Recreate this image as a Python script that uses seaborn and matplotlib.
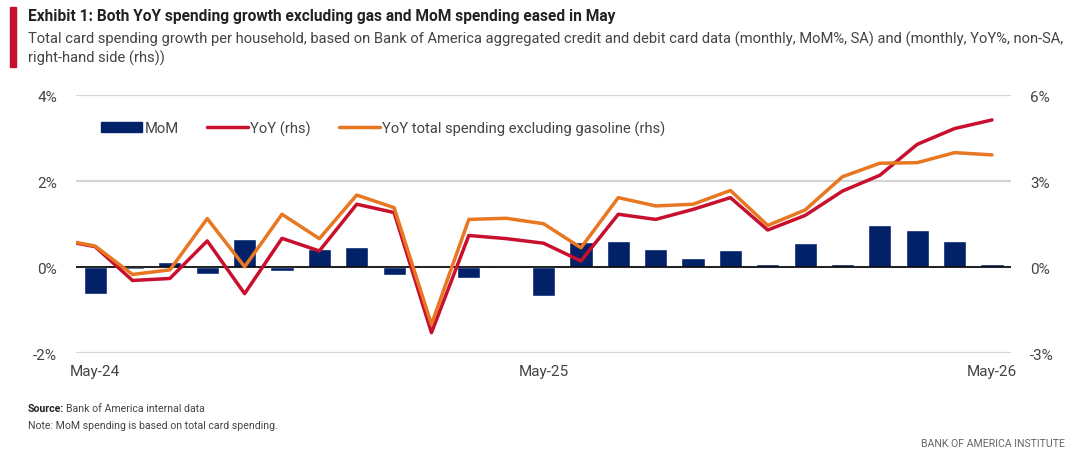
import matplotlib
matplotlib.use("Agg")
import matplotlib.pyplot as plt
import matplotlib.patches as mpatches
from matplotlib.lines import Line2D
import seaborn as sns
import pandas as pd
import numpy as np

# ---- data ----
line_months = ["Apr-24", "May-24", "Jun-24", "Jul-24", "Aug-24", "Sep-24", "Oct-24", "Nov-24",
               "Dec-24", "Jan-25", "Feb-25", "Mar-25", "Apr-25", "May-25", "Jun-25", "Jul-25",
               "Aug-25", "Sep-25", "Oct-25", "Nov-25", "Dec-25", "Jan-26", "Feb-26", "Mar-26",
               "Apr-26", "May-26"]
bar_months = line_months[1:]
mom = [-0.62, -0.04, 0.12, -0.17, 0.64, -0.10, 0.43, 0.47, -0.18, 0.01, -0.26, 0.01, -0.67,
       0.57, 0.60, 0.43, 0.20, 0.39, 0.07, 0.55, 0.07, 0.98, 0.87, 0.60, 0.08]
yoy = [0.95, 0.71, -0.47, -0.40, 0.91, -0.93, 1.00, 0.56, 2.19, 1.90, -2.29, 1.10, 0.99, 0.83,
       0.21, 1.84, 1.66, 2.01, 2.42, 1.29, 1.80, 2.65, 3.20, 4.28, 4.83, 5.13]
yoy_ex_gas = [0.98, 0.73, -0.26, -0.10, 1.69, 0.01, 1.84, 0.99, 2.51, 2.07, -2.00, 1.66, 1.70,
              1.51, 0.67, 2.42, 2.13, 2.19, 2.67, 1.45, 1.99, 3.15, 3.62, 3.64, 3.99, 3.91]
xtick_labels = ["May-24", "May-25", "May-26"]
left_ticks = [-2, 0, 2, 4]
right_ticks = [-3, 0, 3, 6]

NAVY = "#012169"
RED = "#C8102E"
ORANGE = "#E87722"
GRID = "#d4d4d4"
TXT = "#444444"

sns.set_theme(style="white")
plt.rcParams["font.family"] = ["Liberation Sans Narrow", "Roboto", "DejaVu Sans"]

fig = plt.figure(figsize=(10.8, 4.52), dpi=100)
ax = fig.add_axes([0.0708, 0.2168, 0.865, 0.5708])
ax2 = ax.twinx()

bar_df = pd.DataFrame({"pos": np.arange(len(bar_months)), "MoM": mom})
line_df = pd.DataFrame({"pos": np.arange(len(line_months)) - 1, "YoY": yoy, "ExGas": yoy_ex_gas})

# gridlines
for t in left_ticks:
    ax.axhline(t, color=GRID, lw=1.6, zorder=0)

sns.barplot(data=bar_df, x="pos", y="MoM", native_scale=True, width=0.62, color=NAVY,
            saturation=1, ax=ax, zorder=2)
ax.axhline(0, color="black", lw=1.2, zorder=3)

sns.lineplot(data=line_df, x="pos", y="YoY", color=RED, lw=2.5, ax=ax2, zorder=4)
sns.lineplot(data=line_df, x="pos", y="ExGas", color=ORANGE, lw=2.5, ax=ax2, zorder=5)

ax.set_ylim(-2, 4)
ax2.set_ylim(-3, 6)
ax.set_xlim(-0.5, len(bar_months) - 0.5)
ax2.set_xlim(-0.5, len(bar_months) - 0.5)

ax.set_yticks(left_ticks)
ax.set_yticklabels([f"{t}%" for t in left_ticks])
ax2.set_yticks(right_ticks)
ax2.set_yticklabels([f"{t}%" for t in right_ticks])
ax.set_xticks([0, 12, 24])
ax.set_xticklabels(xtick_labels)
for a in (ax, ax2):
    a.set_xlabel("")
    a.set_ylabel("")
    for s in a.spines.values():
        s.set_visible(False)
    a.tick_params(length=0, labelsize=11, labelcolor=TXT)
    a.grid(False)
ax.tick_params(axis="y", pad=14)
ax2.tick_params(axis="y", pad=14)
ax.tick_params(axis="x", pad=8)

handles = [mpatches.Patch(color=NAVY, label="MoM"),
           Line2D([], [], color=RED, lw=2.5, label="YoY (rhs)"),
           Line2D([], [], color=ORANGE, lw=2.5, label="YoY total spending excluding gasoline (rhs)")]
leg = ax.legend(handles=handles, ncol=3, loc="center left", bbox_to_anchor=(0.02, 0.872),
                frameon=False, fontsize=10.6, handlelength=2.8, handleheight=0.6,
                handletextpad=0.15, columnspacing=1.9, borderaxespad=0)
for t in leg.get_texts():
    t.set_color(TXT)

# header
fig.patches.append(mpatches.Rectangle((10 / 1080, 1 - 68 / 452), 6 / 1080, 60 / 452,
                                      transform=fig.transFigure, color=RED))
fig.text(28 / 1080, 1 - 17 / 452, "Exhibit 1: Both YoY spending growth excluding gas and MoM spending eased in May",
         fontsize=11.2, fontweight="bold", color="#222222", va="center", ha="left")
fig.text(28 / 1080, 1 - 39 / 452,
         "Total card spending growth per household, based on Bank of America aggregated credit and debit card data (monthly, MoM%, SA) and (monthly, YoY%, non-SA,",
         fontsize=10.6, color=TXT, va="center", ha="left")
fig.text(28 / 1080, 1 - 58 / 452, "right-hand side (rhs))", fontsize=10.6, color=TXT, va="center", ha="left")

# footer
src = fig.text(28 / 1080, 1 - 409 / 452, "Source:", fontsize=7.6, fontweight="bold", color="#222222",
               va="center", ha="left")
fig.canvas.draw()
bb = src.get_window_extent(renderer=fig.canvas.get_renderer())
fig.text(bb.x1 / 1080 + 2 / 1080, 1 - 409 / 452, "Bank of America internal data", fontsize=7.6,
         color=TXT, va="center", ha="left")
fig.text(28 / 1080, 1 - 426 / 452, "Note: MoM spending is based on total card spending.", fontsize=7.6,
         color=TXT, va="center", ha="left")
fig.text(1065 / 1080, 1 - 444 / 452, "BANK OF AMERICA INSTITUTE", fontsize=7.6, color="#666666",
         va="center", ha="right")

fig.savefig("out.png", dpi=100)
